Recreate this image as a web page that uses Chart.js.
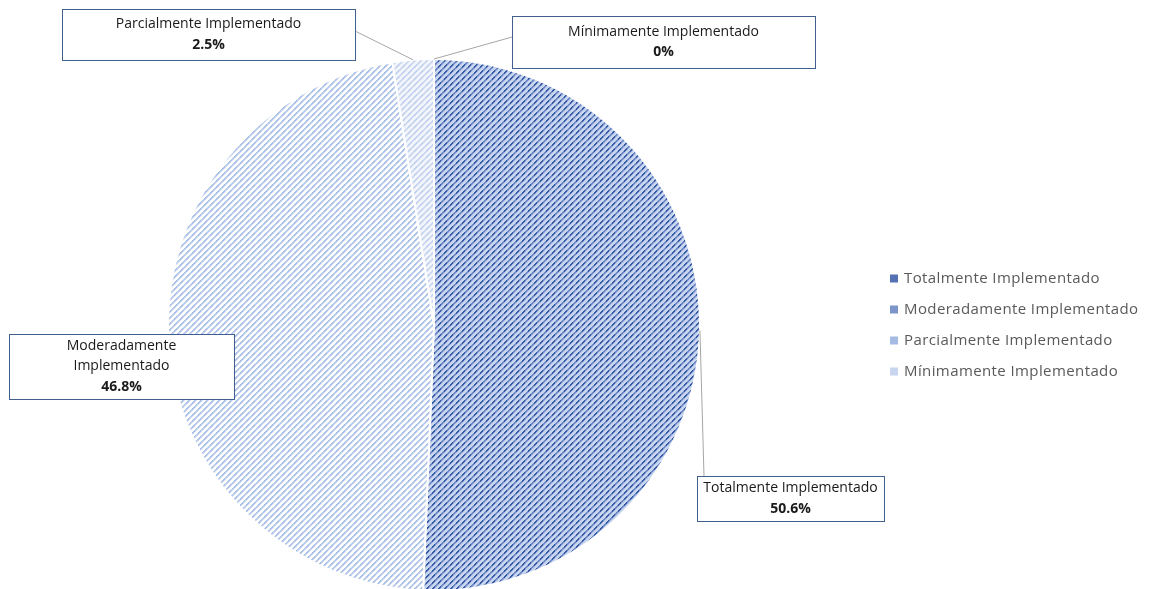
<!DOCTYPE html>
<html>
<head>
<meta charset="utf-8">
<script src="https://cdn.jsdelivr.net/npm/chart.js@4.4.1/dist/chart.umd.min.js"></script>
<style>
html,body{margin:0;padding:0;background:#fff}
#wrap{width:1150px;height:589px;position:relative}
</style>
</head>
<body>
<div id="wrap"><canvas id="pie"></canvas></div>
<script>
const categories = ["Totalmente Implementado", "Moderadamente Implementado", "Parcialmente Implementado", "Mínimamente Implementado"]
const percents = [50.6, 46.8, 2.5, 0]
const valueLabels = ["50.6%", "46.8%", "2.5%", "0%"]

// callout boxes: left, top, width, height in canvas px; wrap splits the name on its space
const callouts = [
  {x: 697, y: 476, w: 187, h: 45, wrap: false, lead: "top"},
  {x: 9, y: 334, w: 225, h: 65, wrap: true, lead: null},
  {x: 62, y: 9, w: 293, h: 51, wrap: false, lead: "right"},
  {x: 512, y: 16, w: 303, h: 52, wrap: false, lead: "left"}
]

const FONT = "'Open Sans', 'Noto Sans', sans-serif"

// diagonal hatch tile, 2px stripes every 6px; dark/mid alternate to break the stripe into dashes
function hatch(bg, dark, mid, edge){
  let c = document.createElement("canvas")
  c.width = 6; c.height = 6
  let g = c.getContext("2d")
  for(let x = 0; x < 6; x++){
    for(let y = 0; y < 6; y++){
      let d = (x + y) % 6
      let col = bg
      if(d < 2) col = x < 3 ? dark : mid
      else if(d == 2) col = edge
      g.fillStyle = col
      g.fillRect(x, y, 1, 1)
    }
  }
  return g.createPattern(c, "repeat")
}

const fills = [
  hatch("#c9d6ef", "#375aa4", "#6e88c5", "#a3b6e0"),
  hatch("#ffffff", "#a9bfe6", "#b7caea", "#d6e1f4"),
  hatch("#f2f5fc", "#c1d0ec", "#cbd8f0", "#e0e8f6"),
  hatch("#f6f8fd", "#d2ddf2", "#dae3f4", "#e8eef8")
]
const markerColors = ["#5572b4", "#7c96cc", "#a6bbe3", "#c8d5ef"]

const calloutPlugin = {
  id: "callouts",
  afterDraw(chart){
    let ctx = chart.ctx
    let arcs = chart.getDatasetMeta(0).data
    ctx.save()

    // leader lines from arc edge to box
    ctx.strokeStyle = "#a6a6a6"
    ctx.lineWidth = 1
    arcs.forEach((arc, i) => {
      let b = callouts[i]
      if(!b.lead) return
      let mid = (arc.startAngle + arc.endAngle) / 2
      let px = arc.x + Math.cos(mid) * arc.outerRadius
      let py = arc.y + Math.sin(mid) * arc.outerRadius
      let ex, ey
      if(b.lead == "top"){ ex = b.x + 7; ey = b.y }
      if(b.lead == "right"){ ex = b.x + b.w; ey = b.y + 22 }
      if(b.lead == "left"){ ex = b.x; ey = b.y + 21 }
      ctx.beginPath()
      ctx.moveTo(px, py)
      ctx.lineTo(ex, ey)
      ctx.stroke()
    })

    // boxes and texts
    callouts.forEach((b, i) => {
      ctx.fillStyle = "#fff"
      ctx.fillRect(b.x, b.y, b.w, b.h)
      ctx.strokeStyle = "#41608f"
      ctx.lineWidth = 1
      ctx.strokeRect(b.x + 0.5, b.y + 0.5, b.w, b.h)
      let lines = b.wrap ? categories[i].split(" ") : [categories[i]]
      let cx = b.x + b.w / 2
      let lh = 20.5
      let total = (lines.length + 1) * lh
      let y0 = b.y + b.h / 2 - total / 2 + lh / 2
      ctx.textAlign = "center"
      ctx.textBaseline = "middle"
      ctx.fillStyle = "#1a1a1a"
      ctx.font = "14px " + FONT
      lines.forEach((t, k) => ctx.fillText(t, cx, y0 + k * lh))
      ctx.font = "bold 14px " + FONT
      ctx.fillText(valueLabels[i], cx, y0 + lines.length * lh)
    })

    // legend at the right of the pie
    let lx = chart.chartArea.right + 22
    let ly = (chart.chartArea.top + chart.chartArea.bottom) / 2 - 1.5 * 31
    ctx.textAlign = "left"
    ctx.font = "15px " + FONT
    ctx.letterSpacing = "0.4px"
    categories.forEach((name, i) => {
      let y = ly + i * 31
      ctx.fillStyle = markerColors[i]
      ctx.fillRect(lx, y - 4, 8, 8)
      ctx.fillStyle = "#595959"
      ctx.fillText(name, lx + 14, y)
    })
    ctx.restore()
  }
}

new Chart(document.getElementById("pie"), {
  type: "pie",
  data: {
    labels: categories,
    datasets: [{
      data: percents,
      backgroundColor: fills,
      borderColor: "#ffffff",
      borderWidth: 2
    }]
  },
  options: {
    responsive: true,
    maintainAspectRatio: false,
    animation: false,
    events: [],
    radius: 266,
    layout: {padding: {left: 0, right: 282, top: 61, bottom: 0}},
    plugins: {
      legend: {display: false},
      tooltip: {enabled: false}
    }
  },
  plugins: [calloutPlugin]
})
</script>
</body>
</html>
